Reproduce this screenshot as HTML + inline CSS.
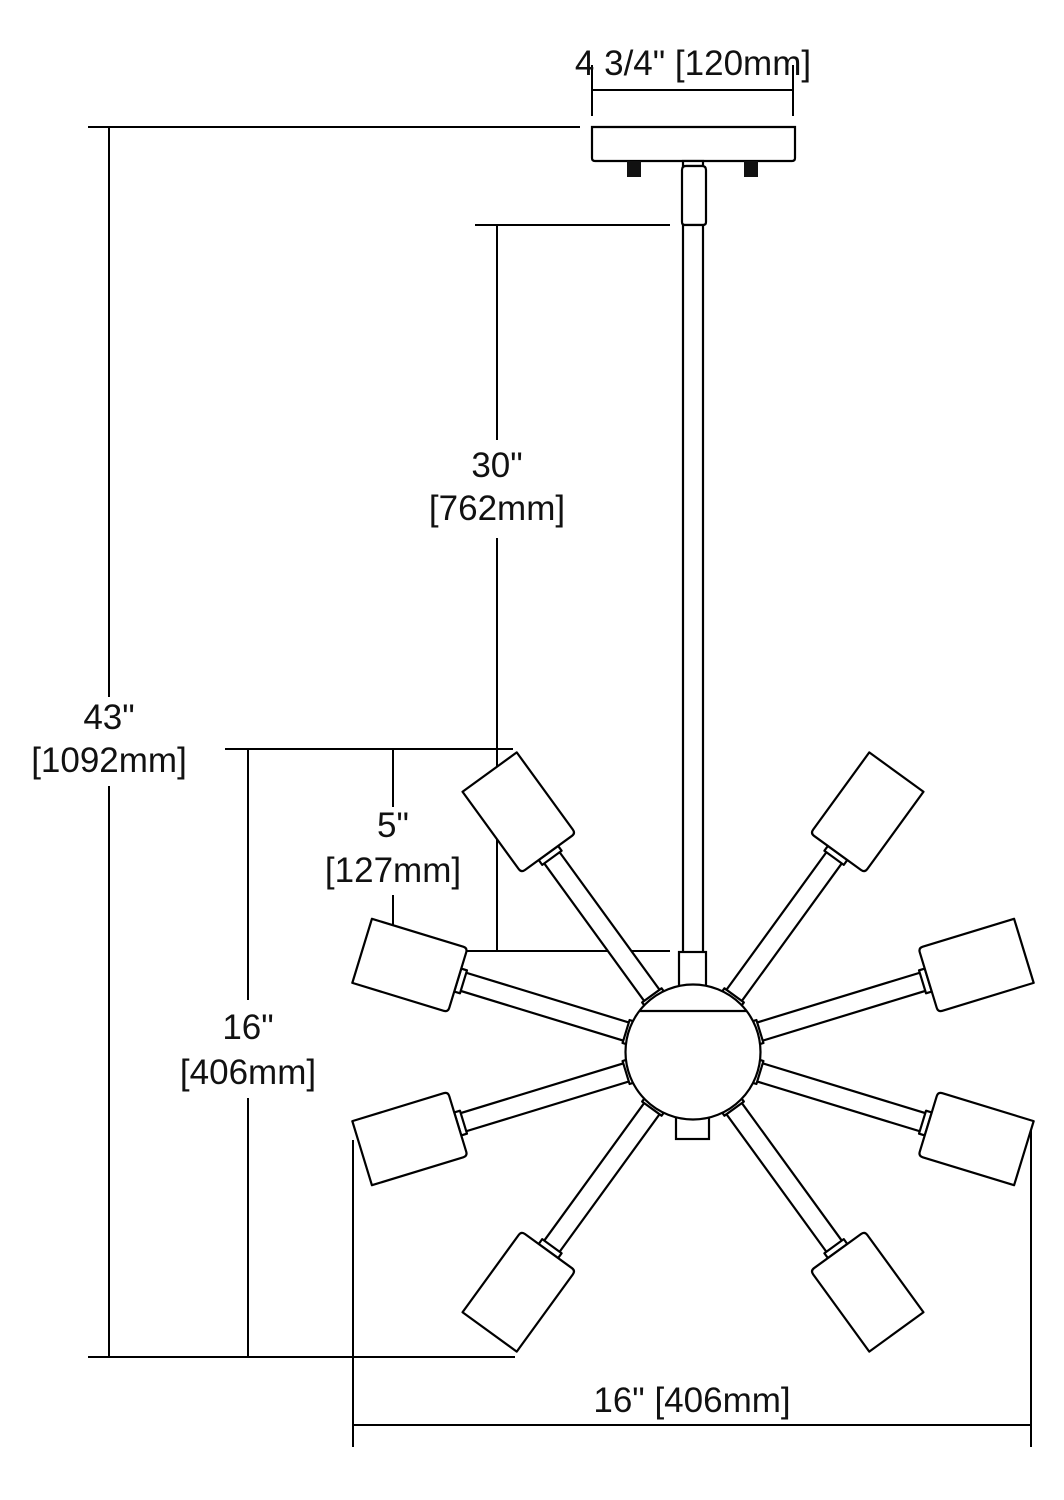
<!DOCTYPE html>
<html><head><meta charset="utf-8"><style>
html,body{margin:0;padding:0;background:#fff;}
svg{display:block;}
text{font-family:"Liberation Sans",sans-serif;font-size:35px;fill:#111;text-anchor:middle;}
</style></head><body>
<svg width="1064" height="1500" viewBox="0 0 1064 1500" xmlns="http://www.w3.org/2000/svg">
<defs>
<g id="arm" stroke="#000" stroke-width="2.2" fill="#fff" stroke-linejoin="round">
  <rect x="66" y="-9.5" width="180" height="19"/>
  <rect x="240" y="-12" width="6" height="24"/>
  <rect x="64" y="-12" width="6" height="24"/>
  <path d="M246,-29 Q246,-33.5 250.5,-33.5 L346,-33.5 L346,33.5 L250.5,33.5 Q246,33.5 246,29 Z"/>
</g>
</defs>
<g stroke="#000" stroke-width="2" fill="none">
  <!-- top dim -->
  <line x1="592" y1="90" x2="793" y2="90"/>
  <line x1="592" y1="65" x2="592" y2="116"/>
  <line x1="793" y1="65" x2="793" y2="116"/>
  <!-- 43 -->
  <line x1="88" y1="127" x2="580" y2="127"/>
  <line x1="109" y1="127" x2="109" y2="697"/>
  <line x1="109" y1="786" x2="109" y2="1357"/>
  <line x1="88" y1="1357" x2="515" y2="1357"/>
  <!-- 30 -->
  <line x1="475" y1="225" x2="670" y2="225"/>
  <line x1="497" y1="225" x2="497" y2="440"/>
  <line x1="497" y1="538" x2="497" y2="951"/>
  <line x1="371" y1="951" x2="670" y2="951"/>
  <!-- 5 / 16 -->
  <line x1="225" y1="749" x2="513" y2="749"/>
  <line x1="393" y1="749" x2="393" y2="807"/>
  <line x1="393" y1="895" x2="393" y2="951"/>
  <line x1="248" y1="749" x2="248" y2="1000"/>
  <line x1="248" y1="1098" x2="248" y2="1357"/>
  <!-- bottom -->
  <line x1="353" y1="1140" x2="353" y2="1447"/>
  <line x1="1031" y1="1125" x2="1031" y2="1447"/>
  <line x1="353" y1="1425" x2="1031" y2="1425"/>
</g>
<!-- canopy -->
<g stroke="#000" stroke-width="2.2" fill="#fff">
  <path d="M592,127 L795,127 L795,158 Q795,161 792,161 L595,161 Q592,161 592,158 Z"/>
  <rect x="683" y="161" width="20" height="5"/>
  <path d="M682,170 Q682,166 686,166 L702,166 Q706,166 706,170 L706,222 Q706,225 703,225 L685,225 Q682,225 682,222 Z"/>
  <rect x="683" y="225" width="20" height="730"/>
  <rect x="679" y="952" width="27" height="34"/>
</g>
<rect x="627" y="161" width="14" height="16" fill="#111"/>
<rect x="744" y="161" width="14" height="16" fill="#111"/>
<!-- arms -->
<g transform="translate(693,1052)">
  <use href="#arm" transform="rotate(-126)"/>
  <use href="#arm" transform="rotate(-54)"/>
  <use href="#arm" transform="rotate(-17)"/>
  <use href="#arm" transform="rotate(17)"/>
  <use href="#arm" transform="rotate(54)"/>
  <use href="#arm" transform="rotate(126)"/>
  <use href="#arm" transform="rotate(163)"/>
  <use href="#arm" transform="rotate(-163)"/>
</g>
<g stroke="#000" stroke-width="2.2" fill="#fff">
  <rect x="676" y="1117" width="33" height="22"/>
  <circle cx="693" cy="1052" r="67.5"/>
  <line x1="640" y1="1011" x2="746" y2="1011"/>
</g>
<text x="693" y="75">4 3/4" [120mm]</text>
<text x="109" y="729">43"</text>
<text x="109" y="772">[1092mm]</text>
<text x="497" y="477">30"</text>
<text x="497" y="520">[762mm]</text>
<text x="393" y="837">5"</text>
<text x="393" y="882">[127mm]</text>
<text x="248" y="1039">16"</text>
<text x="248" y="1084">[406mm]</text>
<text x="692" y="1412">16" [406mm]</text>
</svg>
</body></html>
